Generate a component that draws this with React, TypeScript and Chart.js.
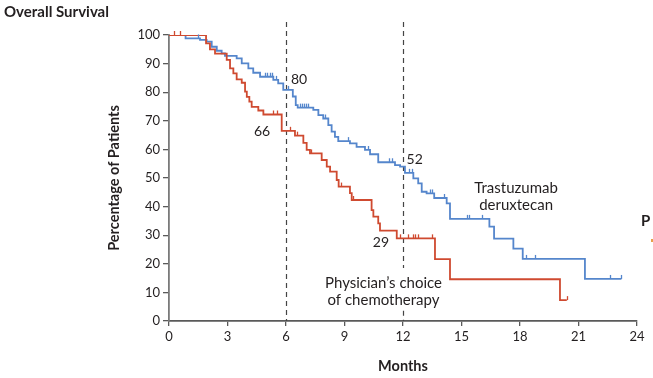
import { useEffect, useRef } from "react";
import { Chart, registerables } from "chart.js";

Chart.register(...registerables);

// ---- Data ----
const xTicks = [0, 3, 6, 9, 12, 15, 18, 21, 24];
const yTicks = [0, 10, 20, 30, 40, 50, 60, 70, 80, 90, 100];

// Trastuzumab deruxtecan (blue)
const tdxdMonths = [0, 0.85, 1.59, 1.93, 2.19, 2.45, 2.7, 2.87, 3.47, 3.73, 4.07, 4.32, 4.67, 5.35, 5.6, 5.86, 6.35, 6.5, 6.6, 7.4, 7.66, 7.91, 8.17, 8.34, 8.51, 8.68, 9.28, 9.62, 10.05, 10.31, 10.73, 11.59, 11.85, 12.1, 12.53, 12.78, 12.96, 13.21, 13.6, 14.24, 14.41, 16.43, 16.67, 17.66, 18.14, 21.33, 23.2];
const tdxdSurvival = [100, 98.8, 98.3, 97.7, 95.9, 94.5, 93.6, 92.7, 91.8, 90.1, 88.3, 86.8, 85.4, 84.3, 83.1, 80.8, 78.5, 75.5, 74.6, 73.8, 72.0, 70.8, 68.5, 66.2, 64.4, 62.9, 62.1, 60.9, 59.8, 58.3, 55.5, 54.5, 54.0, 51.8, 49.9, 48.1, 45.2, 44.6, 43.0, 41.1, 35.7, 33.0, 28.8, 25.3, 21.7, 14.7, 14.7];
const tdxdCensored = [1.5, 4.9, 5.05, 5.2, 5.3, 5.5, 6.1, 6.7, 6.8, 6.9, 7.0, 7.15, 8.0, 9.2, 10.2, 11.3, 11.45, 12.3, 12.45, 13.4, 13.5, 14.1, 15.27, 15.4, 16.03, 18.3, 18.77, 22.6, 23.2];

// Physician's choice of chemotherapy (red)
const pcMonths = [0, 1.9, 2.1, 2.36, 2.96, 3.13, 3.3, 3.47, 3.73, 3.9, 3.99, 4.12, 4.24, 4.58, 4.84, 5.78, 6.46, 6.89, 7.06, 7.23, 7.83, 8.09, 8.26, 8.6, 8.7, 9.28, 9.37, 10.39, 10.48, 10.73, 10.82, 11.68, 13.64, 14.41, 20.05, 20.4];
const pcSurvival = [100, 97.1, 95.0, 93.5, 91.3, 88.3, 86.6, 84.5, 83.3, 80.2, 78.4, 76.7, 74.9, 73.6, 72.2, 66.5, 64.8, 62.3, 59.8, 58.6, 56.3, 54.0, 52.2, 49.3, 47.0, 44.7, 42.3, 38.8, 36.5, 34.1, 31.6, 28.9, 21.6, 14.6, 7.3, 7.3];
const pcCensored = [0.25, 0.55, 5.35, 5.55, 6.2, 6.55, 7.3, 8.8, 9.45, 11.85, 12.27, 12.53, 12.62, 12.78, 13.47, 20.4];

const landmarkMonths = [6, 12];
const landmarkLabels = [
  { text: "80", x: 6.67, y: 84.3 },
  { text: "66", x: 4.77, y: 66.4 },
  { text: "52", x: 12.6, y: 56.3 },
  { text: "29", x: 10.87, y: 27.3 },
];
const seriesLabels = [
  { lines: ["Trastuzumab", "deruxtecan"], x: 17.8, y: 46.5 },
  { lines: ["Physician\u2019s choice", "of chemotherapy"], x: 11.0, y: 13.3 },
];

const BLUE = "#5586cc";
const RED = "#cf4a30";
const TEXT = "#231f20";
const AXIS = "#5a5a5a";
const FONT = "Lato, 'Open Sans', sans-serif";

function stepValue(times: number[], vals: number[], t: number) {
  let v = vals[0];
  for (let i = 0; i < times.length; i++) if (times[i] <= t) v = vals[i];
  return v;
}

const kmPlugin = {
  id: "kmExtras",
  beforeDatasetsDraw(chart: any) {
    const { ctx, scales } = chart;
    const xs = scales.x, ys = scales.y;
    ctx.save();
    ctx.strokeStyle = "#444";
    ctx.lineWidth = 1.2;
    ctx.setLineDash([5, 4]);
    const top = chart.chartArea.top - 13;
    let px = Math.round(xs.getPixelForValue(landmarkMonths[0])) + 0.5;
    ctx.beginPath();
    ctx.moveTo(px, top);
    ctx.lineTo(px, ys.getPixelForValue(0));
    ctx.stroke();
    px = Math.round(xs.getPixelForValue(landmarkMonths[1])) + 0.5;
    ctx.beginPath();
    ctx.moveTo(px, top);
    ctx.lineTo(px, ys.getPixelForValue(18.5));
    ctx.stroke();
    ctx.beginPath();
    ctx.moveTo(px, ys.getPixelForValue(3.6));
    ctx.lineTo(px, ys.getPixelForValue(0));
    ctx.stroke();
    ctx.restore();
  },
  afterDatasetsDraw(chart: any) {
    const { ctx, scales } = chart;
    const xs = scales.x, ys = scales.y;
    ctx.save();
    ctx.lineWidth = 1.3;
    const draw = (cens: number[], times: number[], vals: number[], color: string) => {
      ctx.strokeStyle = color;
      cens.forEach((t) => {
        const x = Math.round(xs.getPixelForValue(t)) + 0.5;
        const y = ys.getPixelForValue(stepValue(times, vals, t));
        ctx.beginPath();
        ctx.moveTo(x, y);
        ctx.lineTo(x, y - 4);
        ctx.stroke();
      });
    };
    draw(tdxdCensored, tdxdMonths, tdxdSurvival, BLUE);
    draw(pcCensored, pcMonths, pcSurvival, RED);
    ctx.restore();
  },
  afterDraw(chart: any) {
    const { ctx, scales } = chart;
    const xs = scales.x, ys = scales.y;
    ctx.save();
    ctx.fillStyle = TEXT;
    ctx.textBaseline = "middle";
    ctx.textAlign = "center";
    ctx.font = `14px ${FONT}`;
    landmarkLabels.forEach((l) => {
      ctx.fillText(l.text, xs.getPixelForValue(l.x), ys.getPixelForValue(l.y));
    });
    ctx.font = `15px ${FONT}`;
    seriesLabels.forEach((s) => {
      const cx = xs.getPixelForValue(s.x);
      const cy = ys.getPixelForValue(s.y);
      s.lines.forEach((line, i) => ctx.fillText(line, cx, cy + i * 17));
    });
    ctx.font = `bold 15px ${FONT}`;
    ctx.textAlign = "left";
    ctx.fillText("Overall Survival", 4, 12);
    ctx.textAlign = "center";
    ctx.font = `bold 14.5px ${FONT}`;
    ctx.fillText("Months", (xs.left + xs.right) / 2, 366);
    ctx.save();
    ctx.translate(114, (ys.top + ys.bottom) / 2);
    ctx.rotate(-Math.PI / 2);
    ctx.fillText("Percentage of Patients", 0, 0);
    ctx.restore();
    ctx.textAlign = "left";
    ctx.font = `bold 15px ${FONT}`;
    ctx.fillText("P", 641, 221);
    ctx.fillStyle = "#e8a04a";
    ctx.fillRect(651, 239, 2, 3);
    ctx.restore();
  },
};

export default function App() {
  const ref = useRef<HTMLCanvasElement | null>(null);
  useEffect(() => {
    if (!ref.current) return;
    const chart = new Chart(ref.current, {
      type: "line",
      data: {
        datasets: [
          {
            label: "Physician's choice of chemotherapy",
            data: pcMonths.map((m, i) => ({ x: m, y: pcSurvival[i] })),
            borderColor: RED,
            borderWidth: 1.8,
            pointRadius: 0,
            stepped: true,
            fill: false,
          },
          {
            label: "Trastuzumab deruxtecan",
            data: tdxdMonths.map((m, i) => ({ x: m, y: tdxdSurvival[i] })),
            borderColor: BLUE,
            borderWidth: 1.8,
            pointRadius: 0,
            stepped: true,
            fill: false,
          },
        ],
      },
      options: {
        animation: false,
        responsive: false,
        maintainAspectRatio: false,
        layout: { padding: { left: 0, right: 16, top: 35, bottom: 0 } },
        plugins: { legend: { display: false }, tooltip: { enabled: false }, title: { display: false } },
        scales: {
          x: {
            type: "linear",
            min: 0,
            max: 24,
            afterFit: (s: any) => { s.height = 57; },
            afterBuildTicks: (s: any) => { s.ticks = xTicks.map((v) => ({ value: v })); },
            grid: { display: true, drawOnChartArea: false, drawTicks: true, tickLength: 5, color: AXIS, lineWidth: 1.3 },
            border: { display: true, color: AXIS, width: 1.8 },
            ticks: { color: TEXT, font: { family: FONT, size: 13 }, padding: 3, maxRotation: 0, autoSkip: false },
          },
          y: {
            type: "linear",
            min: 0,
            max: 100,
            afterFit: (s: any) => { s.width = 169; },
            afterBuildTicks: (s: any) => { s.ticks = yTicks.map((v) => ({ value: v })); },
            grid: { display: true, drawOnChartArea: false, drawTicks: true, tickLength: 6, color: AXIS, lineWidth: 1.3 },
            border: { display: true, color: "#7a7a7a", width: 1.8 },
            ticks: { color: TEXT, font: { family: FONT, size: 13 }, padding: 3, autoSkip: false },
          },
        },
      },
      plugins: [kmPlugin],
    });
    return () => chart.destroy();
  }, []);
  return (
    <div style={{ position: "fixed", left: 0, top: 0, width: 653, height: 378, background: "#fff" }}>
      <canvas ref={ref} width={653} height={378} style={{ width: 653, height: 378, display: "block" }} />
    </div>
  );
}
